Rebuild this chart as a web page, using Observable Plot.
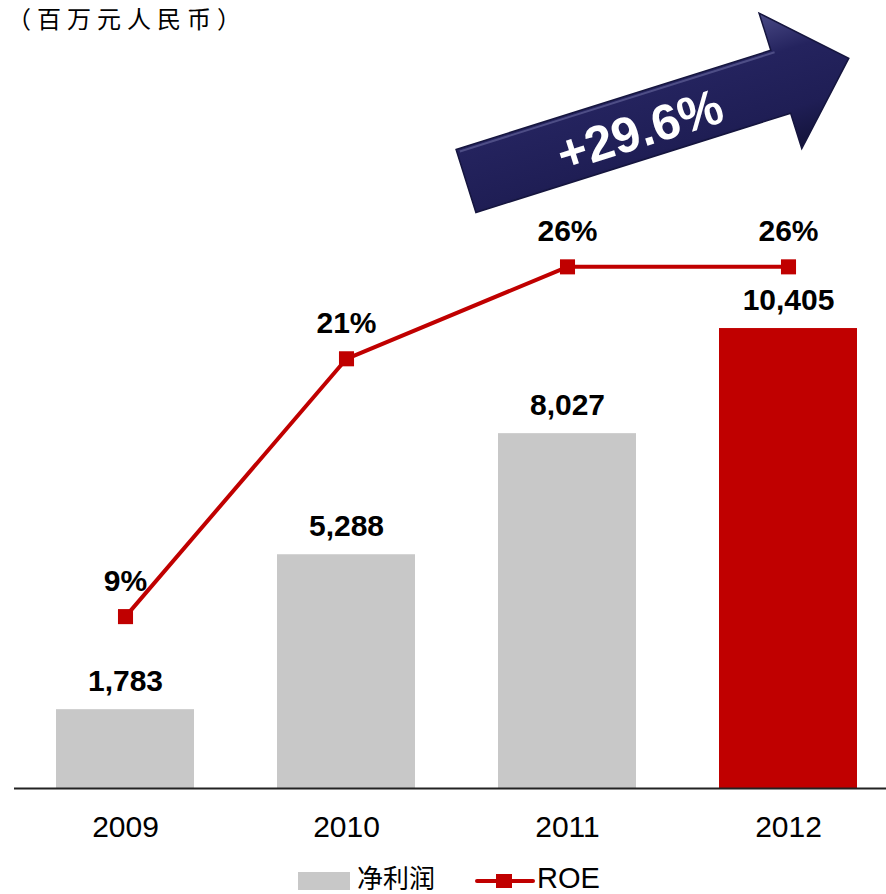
<!DOCTYPE html>
<html>
<head>
<meta charset="utf-8">
<script src="https://cdn.jsdelivr.net/npm/d3@7"></script>
<script src="https://cdn.jsdelivr.net/npm/@observablehq/plot@0.6"></script>
<style>
  html, body { margin: 0; padding: 0; background: #fff; }
  #wrap { position: relative; width: 886px; height: 894px; overflow: hidden; font-family: "Liberation Sans", Arial, sans-serif; }
  #title { position: absolute; left: 7px; top: 2px; font-family: "Noto Sans CJK SC", sans-serif; font-size: 24px; letter-spacing: 6px; color: #000; line-height: 32px; }
  #legend { position: absolute; left: 0; top: 860px; width: 886px; height: 34px; }
  .lg { position: absolute; font-size: 29px; line-height: 33px; color: #000; }
</style>
</head>
<body>
<div id="wrap">
  <div id="title">（百万元人民币）</div>
</div>
<script>
// ---- data ----
const years = ["2009", "2010", "2011", "2012"];
const netProfit = [1783, 5288, 8027, 10405];          // 净利润, 百万元人民币
const roe = [8.6, 21.5, 26.1, 26.1];                    // ROE, %
const roeLabels = ["9%", "21%", "26%", "26%"];
const growthLabel = "+29.6%";
const seriesNames = ["净利润", "ROE"];

// secondary axis: ROE 0–37.6% drawn over the profit axis 0–17000
const profitMax = 17000;
const roeMax = 37.6;

const rows = years.map((y, i) => ({
  year: y,
  value: netProfit[i],
  roe: roe[i],
  roeY: roe[i] / roeMax * profitMax,
  roeLabel: roeLabels[i],
  last: i === years.length - 1
}));

const FONT = "'Liberation Sans', Arial, sans-serif";
const RED = "#c00000";
const GRAY = "#c8c8c8";

const chart = Plot.plot({
  width: 886,
  height: 894,
  marginTop: 36.5,
  marginBottom: 106,
  marginLeft: 14,
  marginRight: 0,
  style: { fontFamily: FONT, background: "transparent", overflow: "visible" },
  x: { domain: years, paddingInner: 0.376, paddingOuter: 0.158, align: 0.587, label: null },
  y: { domain: [0, profitMax], axis: null },
  marks: [
    Plot.barY(rows, { x: "year", y: "value", fill: d => d.last ? RED : GRAY }),
    Plot.ruleY([0], { stroke: "#222", strokeWidth: 2 }),
    Plot.axisX({ tickSize: 0, tickPadding: 27, fontSize: 30, fill: "#000", label: null }),
    Plot.text(rows, { x: "year", y: "value", text: d => d3.format(",")(d.value), dy: -28, fontSize: 30, fontWeight: "bold", fill: "#000" }),
    Plot.line(rows, { x: "year", y: "roeY", stroke: RED, strokeWidth: 4 }),
    Plot.dot(rows, { x: "year", y: "roeY", symbol: "square", r: 8.5, fill: RED, stroke: "none" }),
    Plot.text(rows, { x: "year", y: "roeY", text: "roeLabel", dy: -35, fontSize: 30, fontWeight: "bold", fill: "#000" })
  ]
});
chart.style.position = "absolute";
chart.style.left = "0px";
chart.style.top = "0px";
const wrap = document.getElementById("wrap");
wrap.insertBefore(chart, wrap.firstChild);

// ---- growth arrow annotation ----
const NS = "http://www.w3.org/2000/svg";
const ov = document.createElementNS(NS, "svg");
ov.setAttribute("width", 886);
ov.setAttribute("height", 894);
ov.style.position = "absolute";
ov.style.left = "0px";
ov.style.top = "0px";
ov.innerHTML = `
  <defs>
    <linearGradient id="shaftG" x1="0" y1="-72" x2="0" y2="72" gradientUnits="userSpaceOnUse">
      <stop offset="0" stop-color="#4a4a86"/>
      <stop offset="0.30" stop-color="#24235e"/>
      <stop offset="0.70" stop-color="#1f1e55"/>
      <stop offset="1" stop-color="#121238"/>
    </linearGradient>
  </defs>
  <g transform="translate(466,181) rotate(-17.5)">
    <polygon points="0,-33 330,-33 330,-72 402,-2 330,70 330,33 0,33" fill="url(#shaftG)" stroke="#15153e" stroke-width="1.5" stroke-linejoin="miter"/>
    <polyline points="3,-30 333,-30" stroke="#6a6aa0" stroke-width="2" opacity="0.6"/>
    <text x="181" y="4" fill="#fff" font-family="${FONT}" font-weight="bold" font-size="50" text-anchor="middle" dominant-baseline="central">${growthLabel}</text>
  </g>`;
wrap.appendChild(ov);

// ---- legend ----
const lg = document.createElement("div");
lg.id = "legend";
lg.innerHTML = `
  <div style="position:absolute;left:298px;top:12px;width:52px;height:18px;background:${GRAY}"></div>
  <div class="lg" style="left:357px;top:1px;font-family:'Noto Sans CJK SC',sans-serif;font-size:26px;line-height:32px;">${seriesNames[0]}</div>
  <svg style="position:absolute;left:474px;top:11px" width="62" height="20">
    <line x1="3" y1="10" x2="59" y2="10" stroke="${RED}" stroke-width="4" stroke-linecap="round"/>
    <rect x="22" y="3" width="16" height="14" fill="${RED}"/>
  </svg>
  <div class="lg" style="left:537px;top:2px;">${seriesNames[1]}</div>`;
wrap.appendChild(lg);
</script>
</body>
</html>
